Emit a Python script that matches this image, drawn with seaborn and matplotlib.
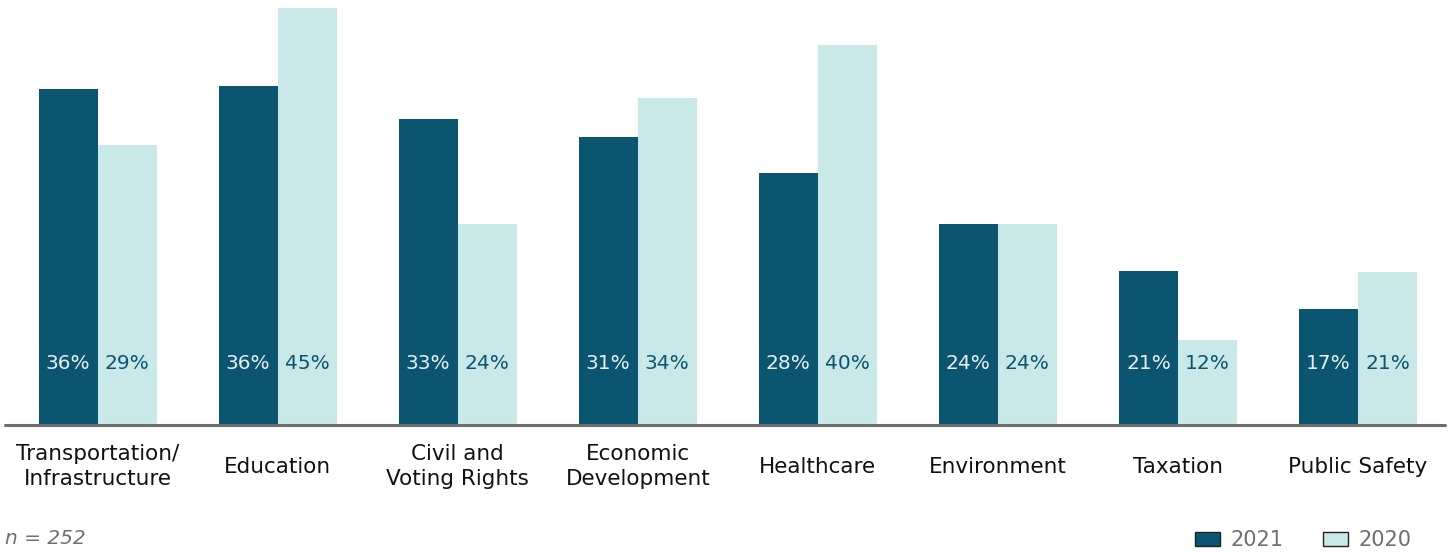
import matplotlib
matplotlib.use("Agg")
import matplotlib.pyplot as plt
import seaborn as sns
import pandas as pd
from matplotlib.patches import Patch

categories = ["Transportation/\nInfrastructure", "Education", "Civil and\nVoting Rights",
              "Economic\nDevelopment", "Healthcare", "Environment", "Taxation", "Public Safety"]
years = ["2021", "2020"]
values_2021 = [36.3, 36.6, 33.0, 31.1, 27.2, 21.7, 16.6, 12.5]
values_2020 = [30.2, 45.0, 21.7, 35.3, 41.0, 21.7, 9.2, 16.5]
labels_2021 = ["36%", "36%", "33%", "31%", "28%", "24%", "21%", "17%"]
labels_2020 = ["29%", "45%", "24%", "34%", "40%", "24%", "12%", "21%"]

dark = "#0B5570"
light = "#C9E9E8"

df = pd.DataFrame({
    "category": categories * 2,
    "year": [years[0]] * len(categories) + [years[1]] * len(categories),
    "value": values_2021 + values_2020,
})

sns.set_theme(style="white")
plt.rcParams["font.family"] = ["DejaVu Sans"]

W, H = 1452, 552
fig = plt.figure(figsize=(W / 100, H / 100), dpi=100)
ax = fig.add_axes([5 / W, (H - 425) / H, 1440 / W, 417 / H])

bw = 0.655
sns.barplot(data=df, x="category", y="value", hue="year", order=categories,
            hue_order=years, palette=[dark, light], width=bw, gap=0,
            saturation=1, linewidth=0, legend=False, ax=ax)

ax.set_xlim(-0.514, 7.483)
ax.set_ylim(0, 45)
for s in ax.spines.values():
    s.set_visible(False)
ax.set_yticks([])
ax.set_xlabel("")
ax.set_ylabel("")
ax.axhline(0, color="#6E6E6E", lw=2.2, zorder=5, clip_on=False)

off = bw / 4
for i in range(len(categories)):
    ax.text(i - off, 6.6, labels_2021[i], ha="center", va="center",
            color="#E6F0F3", fontsize=14.5)
    ax.text(i + off, 6.6, labels_2020[i], ha="center", va="center",
            color=dark, fontsize=14.5)

ax.set_xticks(range(len(categories)))
ax.set_xticklabels(categories, fontsize=15.5, color="#111111",
                   va="center", linespacing=1.3)
ax.tick_params(axis="x", length=0, pad=30)

fig.text(5 / W, 1 - 538 / H, "n = 252", fontsize=14.5, style="italic",
         color="#707070", ha="left", va="center")

handles = [Patch(facecolor=dark, edgecolor="#222222", lw=1),
           Patch(facecolor=light, edgecolor="#222222", lw=1)]
fig.legend(handles, years, loc="center right",
           bbox_to_anchor=(1411 / W, 1 - 540 / H), ncol=2, frameon=False,
           fontsize=15, labelcolor="#6E6E6E", handlelength=1.2,
           handleheight=0.65, handletextpad=0.5, columnspacing=1.9,
           borderaxespad=0, borderpad=0)

fig.savefig("out.png", dpi=100)
